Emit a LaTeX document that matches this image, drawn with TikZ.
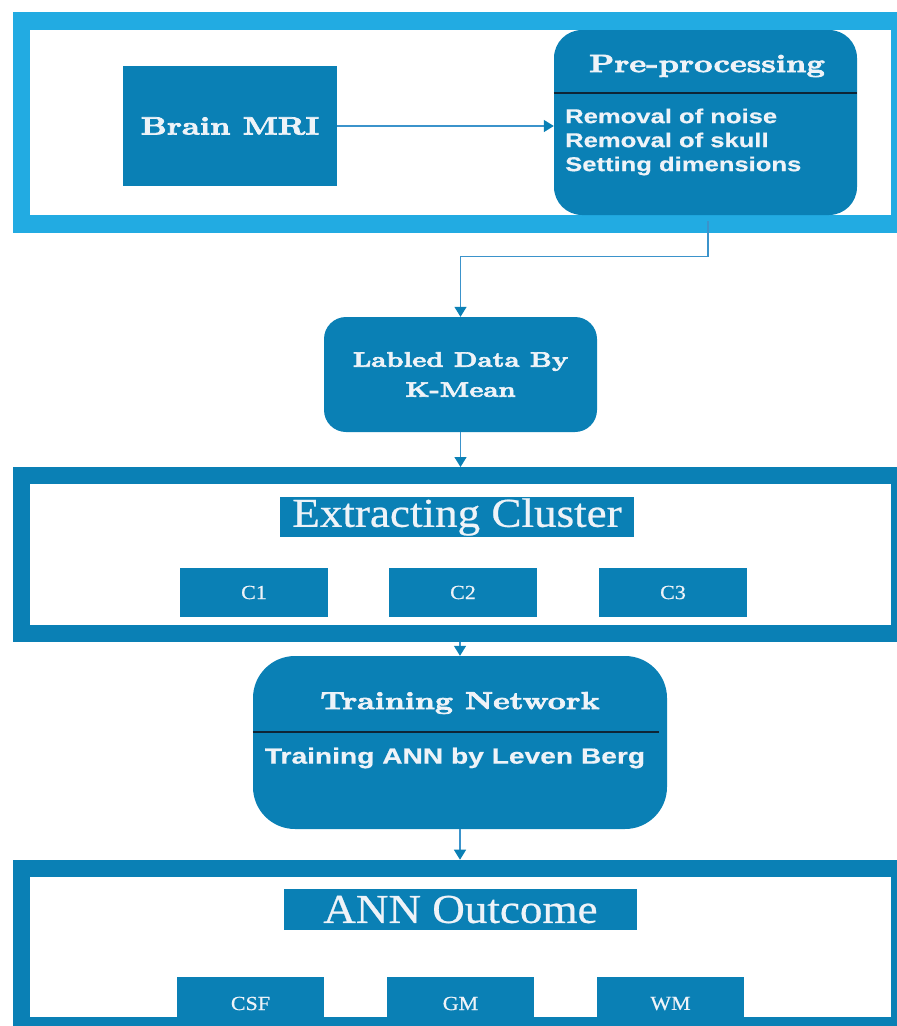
\documentclass[tikz,border=0pt]{standalone}
\usepackage{fontspec}
\usetikzlibrary{arrows.meta}

% Fonts: heavy modern serif for titles, plain serif for labels, bold sans for lists
\newfontfamily\titlefont{lmroman10-bold}[Extension=.otf, FakeStretch=1.28, FakeBold=3]
\newfontfamily\labelfont{Liberation Serif}[FakeStretch=1.1, FakeBold=0.6]
\newfontfamily\listfont{Liberation Sans}[FakeStretch=1.28, FakeBold=0.5]

\definecolor{boxblue}{HTML}{0A80B5}
\definecolor{skyblue}{HTML}{22ABE2}
\definecolor{linkblue}{HTML}{3B93CB}
\definecolor{txt}{HTML}{EEF3F8}
\definecolor{rulecol}{HTML}{0E2536}

\begin{document}
\begin{tikzpicture}[x=1pt, y=-1pt,
  lightframe/.style={draw=skyblue, fill=white, line width=17.5pt, inner sep=0pt},
  darkframe/.style={draw=boxblue, fill=white, line width=17pt, inner sep=0pt},
  blockbox/.style={fill=boxblue, text=txt, inner sep=0pt},
  plaintext/.style={text=txt, inner sep=0pt},
  divider/.style={draw=rulecol, line width=1.3pt},
  conn/.style={draw=linkblue, line width=1.4pt,
    -{Triangle[width=12pt, length=10pt, color=boxblue]}},
  bigtitle/.style={font=\titlefont\fontsize{25}{30}\selectfont},
  listtext/.style={font=\listfont\bfseries\fontsize{20}{24}\selectfont},
  grouplabel/.style={font=\labelfont\fontsize{41}{44}\selectfont},
  itemlabel/.style={font=\labelfont\fontsize{20}{24}\selectfont}
]
\useasboundingbox (0,0) rectangle (897,1026);
\clip (0,0) rectangle (897,1026);

% Stage frames
\node[lightframe, minimum width=878pt, minimum height=203pt] (topframe) at (460.25,122.6) {};
\node[darkframe, minimum width=878.5pt, minimum height=158pt] (clusterframe) at (460.25,554.5) {};
\node[darkframe, minimum width=878.5pt, minimum height=157.75pt] (outframe) at (460.25,947.1) {};

% Input and pre-processing
\node[blockbox, bigtitle, minimum width=214pt, minimum height=120pt] (mri) at (230,126) {Brain MRI};
\node[blockbox, rounded corners=28pt, minimum width=303pt, minimum height=185pt] (pre) at (705.5,122.5) {};
\node[plaintext, bigtitle] (pretitle) at (707,66) {Pre-processing};
\draw[divider] (pre.west |- 0,93) -- (pre.east |- 0,93);
\node[plaintext, listtext, anchor=west, align=left] (preitems) at (565,142)
  {Removal of noise\\Removal of skull\\Setting dimensions};

% Clustering
\node[blockbox, rounded corners=22pt, minimum width=273pt, minimum height=115pt,
  align=center, font=\titlefont\fontsize{21}{30}\selectfont] (kmean) at (460.5,374.5)
  {Labled Data By\\K-Mean};
\node[blockbox, grouplabel, minimum width=354pt, minimum height=40pt] (extract) at (457,517) {Extracting Cluster};
\node[blockbox, itemlabel, minimum width=148pt, minimum height=49pt] (c1) at (254,592.5) {C1};
\node[blockbox, itemlabel, minimum width=148pt, minimum height=49pt] (c2) at (463,592.5) {C2};
\node[blockbox, itemlabel, minimum width=148pt, minimum height=49pt] (c3) at (673,592.5) {C3};

% Training
\node[blockbox, rounded corners=42pt, minimum width=414pt, minimum height=173pt] (train) at (460,742.5) {};
\node[plaintext, font=\titlefont\fontsize{24.5}{30}\selectfont] (traintitle) at (460,703) {Training Network};
\draw[divider] (train.west |- 0,732) -- ([xshift=-8pt]train.east |- 0,732);
\node[plaintext, font=\listfont\bfseries\fontsize{22}{26}\selectfont] (trainsub) at (455,758) {Training ANN by Leven Berg};

% Outcome
\node[blockbox, grouplabel, minimum width=353pt, minimum height=41pt] (outcome) at (460.5,909.5) {ANN Outcome};
\node[blockbox, itemlabel, minimum width=147pt, minimum height=53pt] (csf) at (250.5,1003.5) {CSF};
\node[blockbox, itemlabel, minimum width=147pt, minimum height=53pt] (gm) at (460.5,1003.5) {GM};
\node[blockbox, itemlabel, minimum width=147pt, minimum height=53pt] (wm) at (670.5,1003.5) {WM};

% Connectors
\draw[conn] (mri.east) -- (mri.east -| pre.west);
\draw[conn] ([xshift=2.5pt, yshift=-6pt]pre.south) -- ++(0,35) -| (kmean.north);
\draw[conn] (kmean.south) -- (kmean.south |- clusterframe.north);
\draw[conn] (train.north |- clusterframe.south) -- (train.north);
\draw[conn] (train.south) -- (train.south |- outframe.north);
\end{tikzpicture}
\end{document}
